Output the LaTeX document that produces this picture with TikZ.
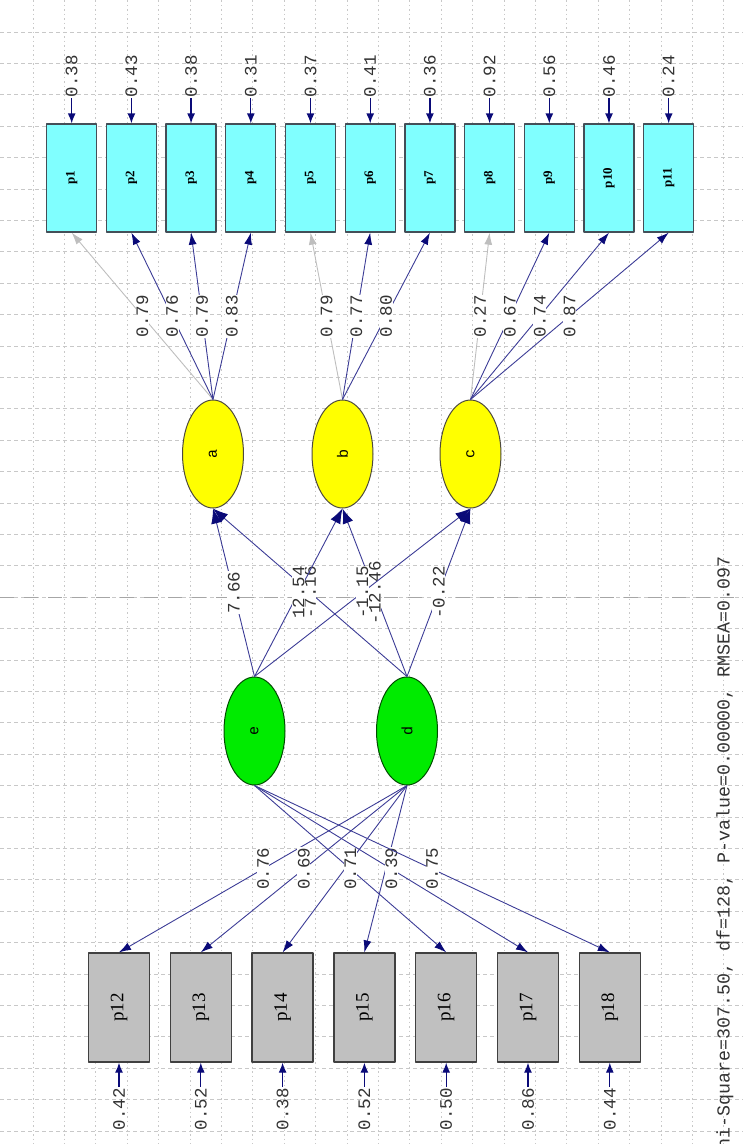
\documentclass[tikz,border=0pt]{standalone}
\usepackage{fontspec}
\setmainfont{Liberation Serif}
\setmonofont{Liberation Mono}
\usepackage{graphicx}
\usetikzlibrary{arrows.meta,shapes.geometric}
\definecolor{pathblue}{RGB}{60,60,150}
\definecolor{headblue}{RGB}{10,10,120}
\definecolor{fixgray}{RGB}{190,190,190}
\definecolor{boxcyan}{RGB}{128,255,255}
\definecolor{latyellow}{RGB}{255,255,0}
\definecolor{latgreen}{RGB}{0,235,0}
\definecolor{boxgray}{RGB}{192,192,192}
\definecolor{gridgray}{RGB}{200,200,200}
\newcommand{\vtxt}[1]{\rotatebox{90}{#1}}

\begin{document}
\begin{tikzpicture}[x=1pt, y=-1pt, line join=round,
		ybox/.style={draw=black!75!cyan, line width=1.3pt, fill=boxcyan, minimum width=50pt, minimum height=108pt, inner sep=0pt, font=\fontsize{13}{13}\selectfont\bfseries},
		xbox/.style={draw=black!75, line width=1.3pt, fill=boxgray, minimum width=61pt, minimum height=109pt, inner sep=0pt, font=\fontsize{19}{19}\selectfont},
		eta/.style={ellipse, draw=black!80!yellow, line width=1pt, fill=latyellow, minimum width=61pt, minimum height=108pt, inner sep=0pt, font=\ttfamily\fontsize{15}{15}\selectfont},
		ksi/.style={eta, fill=latgreen, draw=black!70!green},
		errlbl/.style={inner sep=1pt, text=black!80, font=\ttfamily\fontsize{17.5}{17.5}\selectfont},
		lbl/.style={errlbl, fill=white, inner sep=0.5pt},
		load/.style={draw=pathblue, line width=0.9pt, -{Latex[length=12pt,width=8pt,color=headblue]}},
		fixload/.style={draw=fixgray, line width=0.9pt, -{Latex[length=12pt,width=8pt]}},
		struct/.style={draw=pathblue, line width=0.9pt, -{Latex[length=15pt,width=11pt,color=headblue]}},
		errarr/.style={draw=headblue, line width=1.3pt, -{Latex[length=10pt,width=8pt]}},
		gridh/.style={draw=gridgray, line width=0.7pt, dash pattern=on 4pt off 3pt},
		gridv/.style={draw=gridgray, line width=0.7pt, dash pattern=on 1.5pt off 3pt}]
	\useasboundingbox (0,0) rectangle (743,1144);
	% grid
	\foreach \gx in {0,...,22} \draw[gridv] ({33+31.4*\gx},0) -- ({33+31.4*\gx},1144);
	\foreach \gy in {0,...,35} \draw[gridh] (0,{32+31.4*\gy}) -- (743,{32+31.4*\gy});
	\draw[gray!70, line width=0.8pt, dash pattern=on 14pt off 10pt] (0,597) -- (743,597);
	% observed, top row
	\foreach \i/\v in {1/0.38,2/0.43,3/0.38,4/0.31,5/0.37,6/0.41,7/0.36,8/0.92,9/0.56,10/0.46,11/0.24} {
		\node[ybox] (p\i) at ({71.7+59.7*(\i-1)},178) {\vtxt{p\i}};
		\node[errlbl] (ep\i) at ({71.7+59.7*(\i-1)},76) {\vtxt{\v}};
		\draw[errarr] (ep\i) -- (p\i);
	}
	% latent
	\node[eta] (a) at (213,454) {\vtxt{a}};
	\node[eta] (b) at (342.5,454) {\vtxt{b}};
	\node[eta] (c) at (470.5,454) {\vtxt{c}};
	\node[ksi] (e) at (254.5,731) {\vtxt{e}};
	\node[ksi] (d) at (407,731) {\vtxt{d}};
	% observed, bottom row
	\foreach \i/\v [count=\k from 0] in {12/0.42,13/0.52,14/0.38,15/0.52,16/0.50,17/0.86,18/0.44} {
		\node[xbox] (p\i) at ({119+81.8*\k},1007.5) {\vtxt{p\i}};
		\node[errlbl] (ep\i) at ({119+81.8*\k},1109) {\vtxt{\v}};
		\draw[errarr] (ep\i) -- (p\i);
	}
	% loadings
	\foreach \f/\t/\v/\s in {a/1/0.79/fixload, a/2/0.76/load, a/3/0.79/load, a/4/0.83/load,
		b/5/0.79/fixload, b/6/0.77/load, b/7/0.80/load,
		c/8/0.27/fixload, c/9/0.67/load, c/10/0.74/load, c/11/0.87/load}
		\draw[\s] (\f.north) -- node[lbl] (l\t) {\vtxt{\v}} (p\t.south);
	\foreach \t/\v in {12/0.76,13/0.69} \draw[load] (d.south) -- node[lbl] (l\t) {\vtxt{\v}} (p\t.north);
	\foreach \t in {14,15} \draw[load] (d.south) -- (p\t.north);
	\foreach \t/\v in {16/0.71,17/0.39,18/0.75} \draw[load] (e.south) -- node[lbl] (l\t) {\vtxt{\v}} (p\t.north);
	% structural paths
	\foreach \f/\t/\v in {d/a/-7.16, d/b/-12.46, d/c/-0.22, e/a/7.66, e/b/12.54, e/c/-1.15}
		\draw[struct] (\f.north) -- node[lbl] (s\f\t) {\vtxt{\v}} (\t.south);
	\node[errlbl, anchor=north, font=\ttfamily\fontsize{18.3}{18.3}\selectfont] (fit) at (725,555) {\vtxt{Chi-Square=307.50, df=128, P-value=0.00000, RMSEA=0.097}};
\end{tikzpicture}
\end{document}
